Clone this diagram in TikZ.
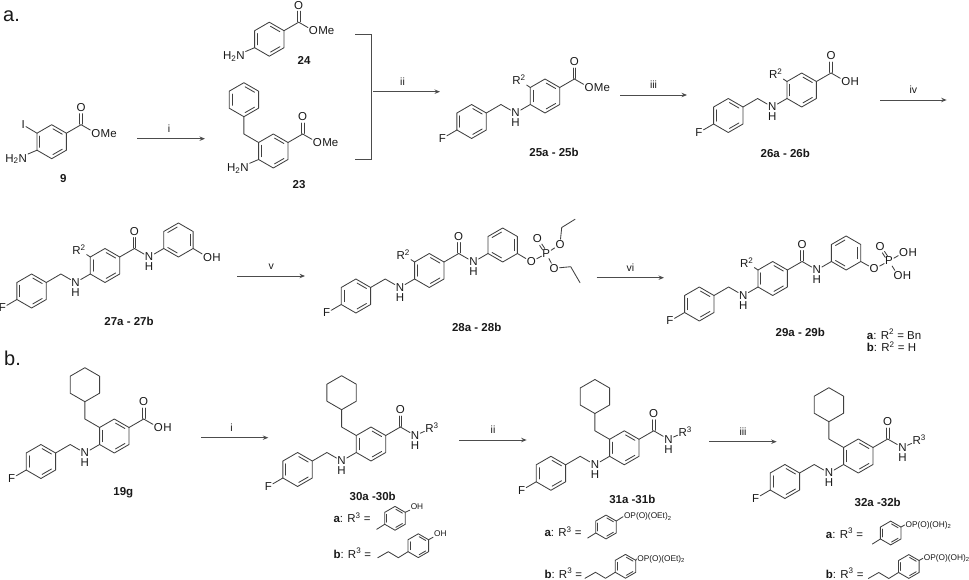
\documentclass[tikz,border=0pt]{standalone}
\usepackage{fontspec}
\setmainfont{Liberation Sans}
\usetikzlibrary{arrows.meta}
\tikzset{
  every pic/.style={transform shape},
  bond/.style={line width=0.85pt,black!75,line join=round,line cap=round},
  atom/.style={font=\fontsize{11.5}{11.5}\selectfont,text=black!90,inner sep=0.8pt},
  tailatom/.style={atom,anchor=west,inner xsep=0pt,xshift=-0.8pt},
  small/.style={font=\fontsize{8.3}{8.3}\selectfont,text=black!90,inner sep=0.8pt},
  cpd/.style={font=\fontsize{11.5}{11.5}\selectfont\bfseries,text=black!90,inner sep=0pt},
  note/.style={font=\fontsize{11.5}{11.5}\selectfont,text=black!90,inner sep=0pt,anchor=west},
  part/.style={font=\fontsize{20}{20}\selectfont,text=black!90,inner sep=0pt},
  reagent/.style={font=\fontsize{10.5}{10.5}\selectfont,text=black!90,inner sep=0pt,above=6pt},
  rxn/.style={line width=0.95pt,black!70,-{Stealth[length=5.5pt,width=4.4pt]}},
  pics/chex/.style={code={
    \draw[bond] (0,-17) -- (14.7,-8.5) -- (14.7,8.5) -- (0,17) -- (-14.7,8.5) -- (-14.7,-8.5) -- cycle;
  }},
  pics/benza/.style={code={
    \pic {chex};
    \draw[bond] (-11.8,-5.6) -- (-11.8,5.6);
    \draw[bond] (1.2,-12.9) -- (10.6,-7.5);
    \draw[bond] (10.6,7.5) -- (1.2,12.9);
  }},
  pics/benzb/.style={code={
    \pic {chex};
    \draw[bond] (-1.2,-12.9) -- (-10.6,-7.5);
    \draw[bond] (11.8,-5.6) -- (11.8,5.6);
    \draw[bond] (-10.6,7.5) -- (-1.2,12.9);
  }},
  pics/acyl/.style={code={
    \pic {benza};
    \node[atom] (-o) at (29.4,-34) {O};
    \draw[bond] (14.7,-8.5) -- (29.4,-17);
    \draw[bond] (28.1,-17.5) -- (28.1,-28);
    \draw[bond] (30.7,-17.5) -- (30.7,-28);
  }},
  pics/ester/.style={code={
    \node[atom] (-o) at (44.1,-8.5) {O};
    \node[tailatom] (-me) at (-o.east) {Me};
    \draw[bond] (29.4,-17) -- (-o);
  }},
  pics/acid/.style={code={
    \node[atom] (-o) at (44.1,-8.5) {O};
    \node[tailatom] (-h) at (-o.east) {H};
    \draw[bond] (29.4,-17) -- (-o);
  }},
  pics/amide/.style={code={
    \node[atom] (-n) at (44.1,-8.5) {N};
    \node[atom] (-h) at (44.1,1.5) {H};
    \draw[bond] (29.4,-17) -- (-n);
  }},
  pics/fbenzyl/.style={code={
    \pic at (-73.4,25.5) {benza};
    \node[atom] (-f) at (-102.7,42.5) {F};
    \node[atom] (-n) at (-29.4,17) {N};
    \node[atom] (-h) at (-29.4,27) {H};
    \draw[bond] (-88.1,34) -- (-f);
    \draw[bond] (-58.7,17) -- (-44.1,8.5) -- (-n);
    \draw[bond] (-14.7,8.5) -- (-n);
  }},
  pics/rtwo/.style={code={
    \node[atom] (-r) at (-26,-16) {R\textsuperscript{2}};
    \draw[bond] (-14.7,-8.5) -- (-r);
  }},
  pics/rthree/.style={code={
    \node[atom] (-r) at (61,-16) {R\textsuperscript{3}};
  }},
  pics/cyclo/.style={code={
    \pic at (-29.4,-51.3) {chex};
    \draw[bond] (-14.7,-8.5) -- (-29.4,-17) -- (-29.4,-34.3);
  }},
  pics/tolyl/.style={code={
    \pic[scale=0.7] {benza};
    \draw[bond] (-10.3,6) -- (-18.3,11);
  }},
  pics/ethyl/.style={code={
    \pic[scale=0.7] {benza};
    \draw[bond] (-10.3,6) -- (-20,12) -- (-30,6) -- (-40.5,12);
  }}
}
\begin{document}
\begin{tikzpicture}[x=1pt,y=-1pt]
  \useasboundingbox (0,0) rectangle (969,580);
  \node[part] (parta) at (11.5,16) {a.};
  \node[part] (partb) at (12.5,358) {b.};

  \begin{scope}[shift={(51.7,141.7)}]
    \pic (c9) {acyl};
    \pic (e9) {ester};
    \node[atom] (i9) at (-28.4,-16.7) {I};
    \node[atom] (nh9) at (-35.5,17.3) {H\textsubscript{2}N};
    \draw[bond] (-14.7,-8.5) -- (i9);
    \draw[bond] (-14.7,8.5) -- (nh9);
  \end{scope}
  \node[cpd] (l9) at (63.3,179) {9};

  \coordinate (ai1) at (137.3,138.7);
  \coordinate (ai2) at (205,138.7);
  \draw[rxn] (ai1) -- node[reagent,xshift=-2pt] (ti) {i} (ai2);

  \begin{scope}[shift={(269.3,39.2)}]
    \pic (c24) {acyl};
    \pic (e24) {ester};
    \node[atom] (nh24) at (-35.5,17.3) {H\textsubscript{2}N};
    \draw[bond] (-14.7,8.5) -- (nh24);
  \end{scope}
  \node[cpd] (l24) at (304,60.7) {24};

  \begin{scope}[shift={(273.3,151)}]
    \pic (c23) {acyl};
    \pic (e23) {ester};
    \pic at (-29.4,-51.3) {benza};
    \draw[bond] (-14.7,-8.5) -- (-29.4,-17) -- (-29.4,-34.3);
    \node[atom] (nh23) at (-35.5,17.3) {H\textsubscript{2}N};
    \draw[bond] (-14.7,8.5) -- (nh23);
  \end{scope}
  \node[cpd] (l23) at (299,184.3) {23};

  \coordinate (b1) at (355,34.7);
  \coordinate (b2) at (371.7,34.7);
  \coordinate (b3) at (371.7,159.3);
  \coordinate (b4) at (355,159.3);
  \draw[line width=0.95pt,black!70] (b1) -- (b2) -- (b3) -- (b4);

  \coordinate (aii1) at (373,91.7);
  \coordinate (aii2) at (440,91.7);
  \draw[rxn] (aii1) -- node[reagent,xshift=-4pt] (tii) {ii} (aii2);

  \begin{scope}[shift={(545,96)}]
    \pic (c25) {acyl};
    \pic (e25) {ester};
    \pic (f25) {fbenzyl};
    \pic (r25) {rtwo};
  \end{scope}
  \node[cpd] (l25) at (554,152.3) {25a - 25b};

  \coordinate (aiii1) at (620,95);
  \coordinate (aiii2) at (687,95);
  \draw[rxn] (aiii1) -- node[reagent] (tiii) {iii} (aiii2);

  \begin{scope}[shift={(801.7,90)}]
    \pic (c26) {acyl};
    \pic (e26) {acid};
    \pic (f26) {fbenzyl};
    \pic (r26) {rtwo};
  \end{scope}
  \node[cpd] (l26) at (785.3,153.3) {26a - 26b};

  \coordinate (aiv1) at (880,100);
  \coordinate (aiv2) at (946.7,100);
  \draw[rxn] (aiv1) -- node[reagent] (tiv) {iv} (aiv2);

  \begin{scope}[shift={(105,265.5)}]
    \pic (c27) {acyl};
    \pic (e27) {amide};
    \pic (f27) {fbenzyl};
    \pic (r27) {rtwo};
    \pic at (73.4,-25.5) {benzb};
    \node[atom] (o27) at (102.6,-8.3) {O};
    \node[tailatom] (h27) at (o27.east) {H};
    \draw[bond] (e27-n) -- (58.7,-17);
    \draw[bond] (88.1,-17) -- (o27);
  \end{scope}
  \node[cpd] (l27) at (129,321.7) {27a - 27b};

  \coordinate (av1) at (237.3,276);
  \coordinate (av2) at (305,276);
  \draw[rxn] (av1) -- node[reagent] (tv) {v} (av2);

  \begin{scope}[shift={(429.3,270.5)}]
    \pic (c28) {acyl};
    \pic (e28) {amide};
    \pic (f28) {fbenzyl};
    \pic (r28) {rtwo};
    \pic at (73.4,-25.5) {benzb};
    \node[atom] (o28) at (102,-8.7) {O};
    \node[atom] (p28) at (117,-17) {P};
    \node[atom] (do28) at (108,-32.2) {O};
    \node[atom] (ou28) at (130.7,-26.2) {O};
    \node[atom] (ol28) at (124.7,-2.2) {O};
    \draw[bond] (e28-n) -- (58.7,-17);
    \draw[bond] (88.1,-17) -- (o28);
    \draw[bond] (o28) -- (p28);
    \draw[bond] (p28) -- (ou28);
    \draw[bond] (p28) -- (ol28);
    \draw[bond] (115.5,-22) -- (112.5,-26.5);
    \draw[bond] (113.3,-20.6) -- (110.3,-25.2);
    \draw[bond] (ou28) -- (132.4,-43) -- (145.7,-51.2);
    \draw[bond] (ol28) -- (141.4,-3.8) -- (150.7,12.2);
  \end{scope}
  \node[cpd] (l28) at (476.7,327.3) {28a - 28b};

  \coordinate (avi1) at (596.7,277.7);
  \coordinate (avi2) at (664,277.7);
  \draw[rxn] (avi1) -- node[reagent] (tvi) {vi} (avi2);

  \begin{scope}[shift={(772.7,278.5)}]
    \pic (c29) {acyl};
    \pic (e29) {amide};
    \pic (f29) {fbenzyl};
    \pic (r29) {rtwo};
    \pic at (73.4,-25.5) {benzb};
    \node[atom] (o29) at (101.5,-9.5) {O};
    \node[atom] (p29) at (116.3,-17.5) {P};
    \node[atom] (do29) at (107.3,-32) {O};
    \node[atom] (ou29) at (131,-26) {O};
    \node[tailatom] (hu29) at (ou29.east) {H};
    \node[atom] (ol29) at (125.3,-3) {O};
    \node[tailatom] (hl29) at (ol29.east) {H};
    \draw[bond] (e29-n) -- (58.7,-17);
    \draw[bond] (88.1,-17) -- (o29);
    \draw[bond] (o29) -- (p29);
    \draw[bond] (p29) -- (ou29);
    \draw[bond] (p29) -- (ol29);
    \draw[bond] (114.8,-22.5) -- (111.8,-27);
    \draw[bond] (112.6,-21.1) -- (109.6,-25.7);
  \end{scope}
  \node[cpd] (l29) at (800.3,332.3) {29a - 29b};
  \node[note] (na29) at (866.7,334.3) {\textbf{a}: R\textsuperscript{2} = Bn};
  \node[note] (nb29) at (866.7,346.7) {\textbf{b}: R\textsuperscript{2} = H};

  \begin{scope}[shift={(114.3,436)}]
    \pic (c19) {acyl};
    \pic (e19) {acid};
    \pic (f19) {fbenzyl};
    \pic (y19) {cyclo};
  \end{scope}
  \node[cpd] (l19) at (123.3,492.3) {19g};

  \coordinate (bi1) at (201,437.7);
  \coordinate (bi2) at (268.3,437.7);
  \draw[rxn] (bi1) -- node[reagent,xshift=-3pt] (tbi) {i} (bi2);

  \begin{scope}[shift={(371,444)}]
    \pic (c30) {acyl};
    \pic (e30) {amide};
    \pic (f30) {fbenzyl};
    \pic (y30) {cyclo};
    \pic (r30) {rthree};
    \draw[bond] (e30-n) -- (r30-r);
  \end{scope}
  \node[cpd] (l30) at (372.7,496) {30a -30b};
  \node[note] (na30) at (333.3,517.7) {\textbf{a}: R\textsuperscript{3} =};
  \pic at (395,518.3) {tolyl};
  \node[small] (oa30) at (417,506.7) {OH};
  \draw[bond] (405.3,512.3) -- (oa30);
  \node[note] (nb30) at (333.3,553.3) {\textbf{b}: R\textsuperscript{3} =};
  \pic at (418.3,545.7) {ethyl};
  \node[small] (ob30) at (440.3,533.3) {OH};
  \draw[bond] (428.6,539.7) -- (ob30);

  \coordinate (bii1) at (459.3,440);
  \coordinate (bii2) at (526.7,440);
  \draw[rxn] (bii1) -- node[reagent] (tbii) {ii} (bii2);

  \begin{scope}[shift={(624.3,447.8)}]
    \pic (c31) {acyl};
    \pic (e31) {amide};
    \pic (f31) {fbenzyl};
    \pic (y31) {cyclo};
    \pic (r31) {rthree};
    \draw[bond] (e31-n) -- (r31-r);
  \end{scope}
  \node[cpd] (l31) at (632.3,499.3) {31a -31b};
  \node[note] (na31) at (544.3,531.7) {\textbf{a}: R\textsuperscript{3} =};
  \pic at (606,527) {tolyl};
  \node[small,anchor=west] (oa31) at (623,516.7) {OP(O)(OEt)\textsubscript{2}};
  \draw[bond] (616.3,521) -- (oa31.west);
  \node[note] (nb31) at (544.3,573.3) {\textbf{b}: R\textsuperscript{3} =};
  \pic at (625.5,566.3) {ethyl};
  \node[small,anchor=west] (ob31) at (636.4,559) {OP(O)(OEt)\textsubscript{2}};
  \draw[bond] (635.8,560.3) -- (ob31.west);

  \coordinate (biii1) at (709.3,441.7);
  \coordinate (biii2) at (776.7,441.7);
  \draw[rxn] (biii1) -- node[reagent] (tbiii) {iii} (biii2);

  \begin{scope}[shift={(858.3,456)}]
    \pic (c32) {acyl};
    \pic (e32) {amide};
    \pic (f32) {fbenzyl};
    \pic (y32) {cyclo};
    \pic (r32) {rthree};
    \draw[bond] (e32-n) -- (r32-r);
  \end{scope}
  \node[cpd] (l32) at (877.7,502.7) {32a -32b};
  \node[note] (na32) at (825.7,533.3) {\textbf{a}: R\textsuperscript{3} =};
  \pic at (890.7,533) {tolyl};
  \node[small,anchor=west] (oa32) at (904.7,525) {OP(O)(OH)\textsubscript{2}};
  \draw[bond] (901,527) -- (oa32.west);
  \node[note] (nb32) at (825.7,573.3) {\textbf{b}: R\textsuperscript{3} =};
  \pic at (908.8,566.5) {ethyl};
  \node[small,anchor=west] (ob32) at (922.9,558.3) {OP(O)(OH)\textsubscript{2}};
  \draw[bond] (919.1,560.5) -- (ob32.west);
\end{tikzpicture}
\end{document}
